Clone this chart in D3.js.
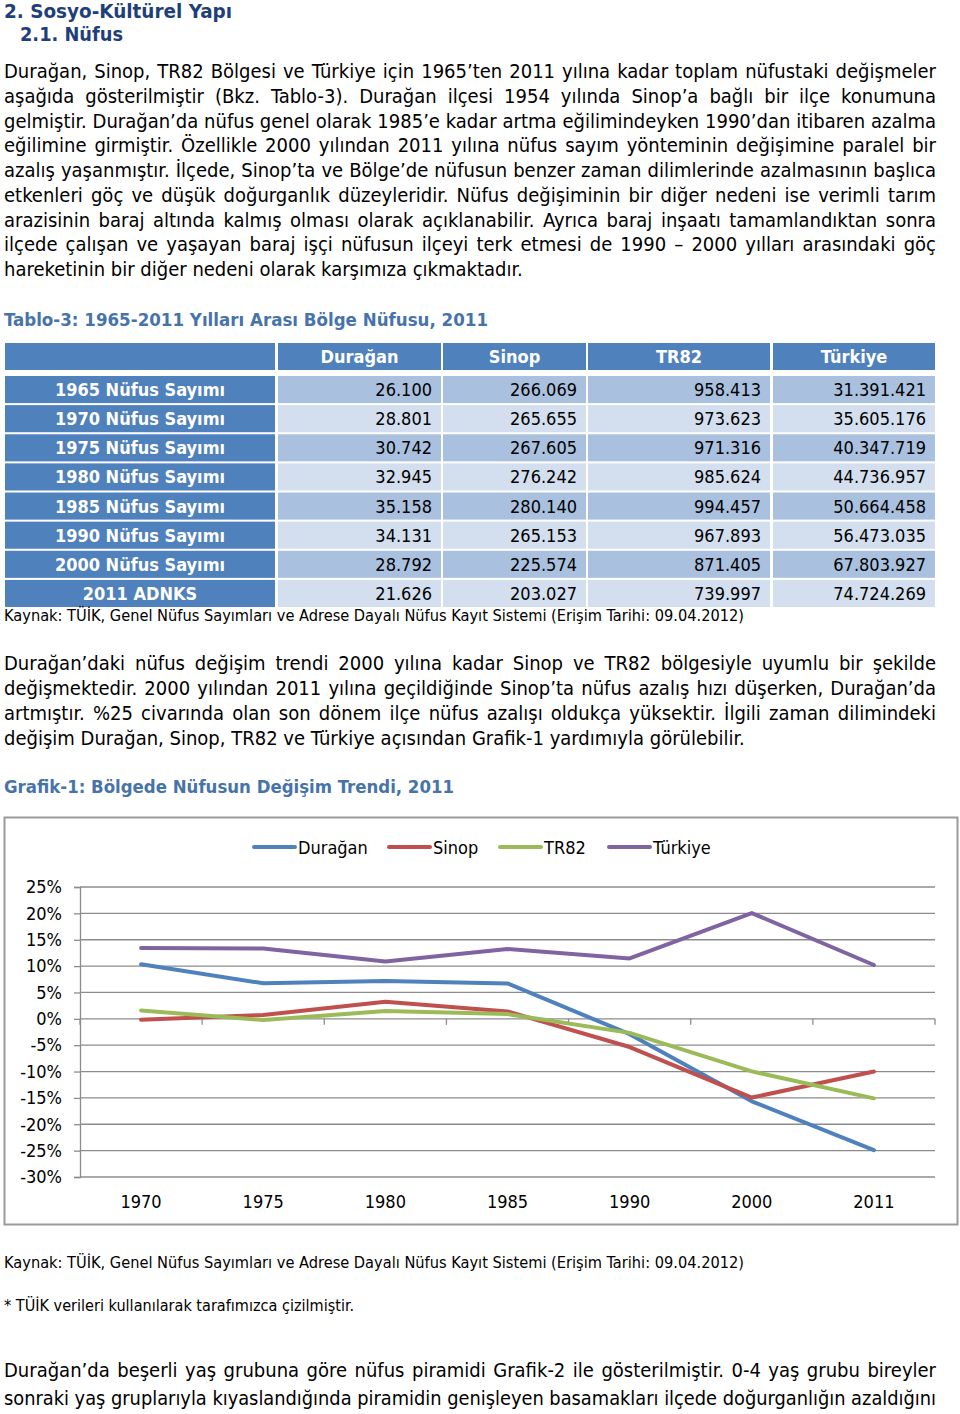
<!DOCTYPE html>
<html><head><meta charset="utf-8">
<script src="https://cdn.jsdelivr.net/npm/d3@7"></script>
<style>
html,body{margin:0;padding:0;background:#fff;}
svg{display:block;}
text{font-family:'DejaVu Sans Condensed','DejaVu Sans',sans-serif;}
</style></head>
<body>
<script>
// ---------- DATA ----------
const years = ["1970","1975","1980","1985","1990","2000","2011"];
const seriesNames = ["Durağan","Sinop","TR82","Türkiye"];
const duragan = [10.35, 6.74, 7.17, 6.72, -2.92, -15.64, -24.89];
const sinop   = [-0.16, 0.73, 3.23, 1.41, -5.35, -14.93, -10.00];
const tr82    = [1.59, -0.24, 1.47, 0.90, -2.67, -9.97, -15.08];
const turkiye = [13.42, 13.32, 10.88, 13.25, 11.46, 20.06, 10.21];
const yTicks = [25,20,15,10,5,0,-5,-10,-15,-20,-25,-30];

const rowLabels = ["1965 Nüfus Sayımı","1970 Nüfus Sayımı","1975 Nüfus Sayımı","1980 Nüfus Sayımı","1985 Nüfus Sayımı","1990 Nüfus Sayımı","2000 Nüfus Sayımı","2011 ADNKS"];
const tblDuragan = ["26.100","28.801","30.742","32.945","35.158","34.131","28.792","21.626"];
const tblSinop   = ["266.069","265.655","267.605","276.242","280.140","265.153","225.574","203.027"];
const tblTR82    = ["958.413","973.623","971.316","985.624","994.457","967.893","871.405","739.997"];
const tblTurkiye = ["31.391.421","35.605.176","40.347.719","44.736.957","50.664.458","56.473.035","67.803.927","74.724.269"];

const para1 = [
"Durağan, Sinop, TR82 Bölgesi ve Türkiye için 1965’ten 2011 yılına kadar toplam nüfustaki değişmeler",
"aşağıda gösterilmiştir (Bkz. Tablo-3). Durağan ilçesi 1954 yılında Sinop’a bağlı bir ilçe konumuna",
"gelmiştir. Durağan’da nüfus genel olarak 1985’e kadar artma eğilimindeyken 1990’dan itibaren azalma",
"eğilimine girmiştir. Özellikle 2000 yılından 2011 yılına nüfus sayım yönteminin değişimine paralel bir",
"azalış yaşanmıştır. İlçede, Sinop’ta ve Bölge’de nüfusun benzer zaman dilimlerinde azalmasının başlıca",
"etkenleri göç ve düşük doğurganlık düzeyleridir. Nüfus değişiminin bir diğer nedeni ise verimli tarım",
"arazisinin baraj altında kalmış olması olarak açıklanabilir. Ayrıca baraj inşaatı tamamlandıktan sonra",
"ilçede çalışan ve yaşayan baraj işçi nüfusun ilçeyi terk etmesi de 1990 – 2000 yılları arasındaki göç",
"hareketinin bir diğer nedeni olarak karşımıza çıkmaktadır."
];
const para2 = [
"Durağan’daki nüfus değişim trendi 2000 yılına kadar Sinop ve TR82 bölgesiyle uyumlu bir şekilde",
"değişmektedir. 2000 yılından 2011 yılına geçildiğinde Sinop’ta nüfus azalış hızı düşerken, Durağan’da",
"artmıştır. %25 civarında olan son dönem ilçe nüfus azalışı oldukça yüksektir. İlgili zaman dilimindeki",
"değişim Durağan, Sinop, TR82 ve Türkiye açısından Grafik-1 yardımıyla görülebilir."
];
const para3 = [
"Durağan’da beşerli yaş grubuna göre nüfus piramidi Grafik-2 ile gösterilmiştir. 0-4 yaş grubu bireyler",
"sonraki yaş gruplarıyla kıyaslandığında piramidin genişleyen basamakları ilçede doğurganlığın azaldığını"
];
const sourceText = "Kaynak: TÜİK, Genel Nüfus Sayımları ve Adrese Dayalı Nüfus Kayıt Sistemi (Erişim Tarihi: 09.04.2012)";
const noteText = "* TÜİK verileri kullanılarak tarafımızca çizilmiştir.";

// ---------- PAGE ----------
const W = 960, H = 1414;
const svg = d3.select("body").append("svg").attr("width", W).attr("height", H);
const navy = "#1f3f7b", steel = "#4773ab";

function txt(s, x, y, o = {}) {
  const t = svg.append("text").attr("x", x).attr("y", y).text(s)
    .attr("font-size", o.size || 18)
    .attr("fill", o.fill || "#000")
    .attr("font-weight", o.bold ? "bold" : "normal");
  if (o.anchor) t.attr("text-anchor", o.anchor);
  if (o.width) {
    const w = t.node().getComputedTextLength();
    if (o.justify && w < o.width) {
      const n = (s.match(/ /g) || []).length;
      if (n) t.style("word-spacing", ((o.width - w) / n) + "px");
    } else if (o.fit || w > o.width) {
      t.attr("textLength", o.width).attr("lengthAdjust", "spacingAndGlyphs");
    }
  }
  return t;
}

function paragraph(lines, y0, step, justifyLast) {
  lines.forEach((l, i) => {
    const last = i === lines.length - 1 && !justifyLast;
    txt(l, 4, y0 + i * step, { size: 20, width: 932, justify: !last });
  });
}

txt("2. Sosyo-Kültürel Yapı", 4, 18, { size: 20, bold: true, fill: navy, width: 228, fit: true });
txt("2.1. Nüfus", 20, 41, { size: 20, bold: true, fill: navy, width: 103, fit: true });

paragraph(para1, 78, 24.75, false);

txt("Tablo-3: 1965-2011 Yılları Arası Bölge Nüfusu, 2011", 4, 326, { size: 18, bold: true, fill: steel, width: 484, fit: true });

// ---------- TABLE ----------
const blue = "#4f81bd", rowDark = "#a9c0df", rowLight = "#d3dfee";
const colEdges = [[5, 275], [278, 441], [443, 586], [588, 770], [773, 935]];
const tblCols = [tblDuragan, tblSinop, tblTR82, tblTurkiye];
const rowY = d3.scaleBand().domain(rowLabels).range([376, 607]).paddingInner(0.07);

const head = svg.append("g");
colEdges.forEach((c, i) => {
  head.append("rect").attr("x", c[0]).attr("y", 343).attr("width", c[1] - c[0]).attr("height", 27).attr("fill", blue);
  if (i > 0) txt(seriesNames[i - 1], (c[0] + c[1]) / 2, 363, { size: 18, bold: true, fill: "#fff", anchor: "middle" });
});
rowLabels.forEach((r, ri) => {
  const y = rowY(r), h = rowY.bandwidth();
  svg.append("rect").attr("x", colEdges[0][0]).attr("y", y).attr("width", colEdges[0][1] - colEdges[0][0]).attr("height", h).attr("fill", blue);
  txt(r, (colEdges[0][0] + colEdges[0][1]) / 2, y + h / 2 + 6.5, { size: 18, bold: true, fill: "#fff", anchor: "middle" });
  tblCols.forEach((col, ci) => {
    const c = colEdges[ci + 1];
    svg.append("rect").attr("x", c[0]).attr("y", y).attr("width", c[1] - c[0]).attr("height", h).attr("fill", ri % 2 === 0 ? rowDark : rowLight);
    txt(col[ri], c[1] - 9, y + h / 2 + 6.5, { size: 18, anchor: "end" });
  });
});

txt(sourceText, 4, 621, { size: 15, width: 740, fit: true });

paragraph(para2, 670, 25, false);

txt("Grafik-1: Bölgede Nüfusun Değişim Trendi, 2011", 4, 793, { size: 18, bold: true, fill: steel, width: 450, fit: true });

// ---------- CHART ----------
svg.append("rect").attr("x", 4.5).attr("y", 817.5).attr("width", 953).attr("height", 407)
  .attr("fill", "#fff").attr("stroke", "#9a9a9a").attr("stroke-width", 2);

const x = d3.scaleBand().domain(years).range([80, 935]);
const y = d3.scaleLinear().domain([-30, 25]).range([1177, 887]);
const gridC = "#8c8c8c";

const g = svg.append("g");
g.selectAll("line.grid").data(yTicks).join("line").attr("class", "grid")
  .attr("x1", 80).attr("x2", 935).attr("y1", d => y(d)).attr("y2", d => y(d))
  .attr("stroke", gridC).attr("stroke-width", 1.3);
const yAxis = g.append("g").attr("transform", "translate(80,0)")
  .call(d3.axisLeft(y).tickValues(yTicks).tickSize(6).tickPadding(12).tickFormat(d => d + "%"));
yAxis.select(".domain").attr("stroke", gridC).attr("stroke-width", 1.3);
yAxis.selectAll(".tick line").attr("stroke", gridC).attr("stroke-width", 1.3);
yAxis.selectAll(".tick text").attr("font-size", 18).attr("fill", "#000")
  .attr("font-family", "'DejaVu Sans Condensed','DejaVu Sans',sans-serif");

const xb = [80].concat(years.map(d => x(d) + x.bandwidth()));
g.selectAll("line.xt").data(xb).join("line").attr("class", "xt")
  .attr("x1", d => d).attr("x2", d => d).attr("y1", y(0)).attr("y2", y(0) + 6)
  .attr("stroke", gridC).attr("stroke-width", 1.3);
g.selectAll("text.xl").data(years).join("text").attr("class", "xl")
  .attr("x", d => x(d) + x.bandwidth() / 2).attr("y", 1208).attr("text-anchor", "middle")
  .attr("font-size", 18).text(d => d);

const colors = ["#4f81bd", "#c0504d", "#9bbb59", "#8064a2"];
const seriesData = [duragan, sinop, tr82, turkiye];
const line = d3.line().x((d, i) => x(years[i]) + x.bandwidth() / 2).y(d => y(d));
seriesData.forEach((s, i) => {
  g.append("path").attr("d", line(s)).attr("fill", "none").attr("stroke", colors[i])
    .attr("stroke-width", 4).attr("stroke-linejoin", "round").attr("stroke-linecap", "round");
});

const legX = [254, 389, 500, 609];
seriesNames.forEach((n, i) => {
  g.append("line").attr("x1", legX[i]).attr("x2", legX[i] + 41).attr("y1", 847).attr("y2", 847)
    .attr("stroke", colors[i]).attr("stroke-width", 4).attr("stroke-linecap", "round");
  txt(n, legX[i] + 44, 854, { size: 18 });
});

txt(sourceText, 4, 1268, { size: 15, width: 740, fit: true });
txt(noteText, 4, 1311, { size: 15, width: 350, fit: true });

paragraph(para3, 1377, 27.5, true);
</script>
</body></html>
